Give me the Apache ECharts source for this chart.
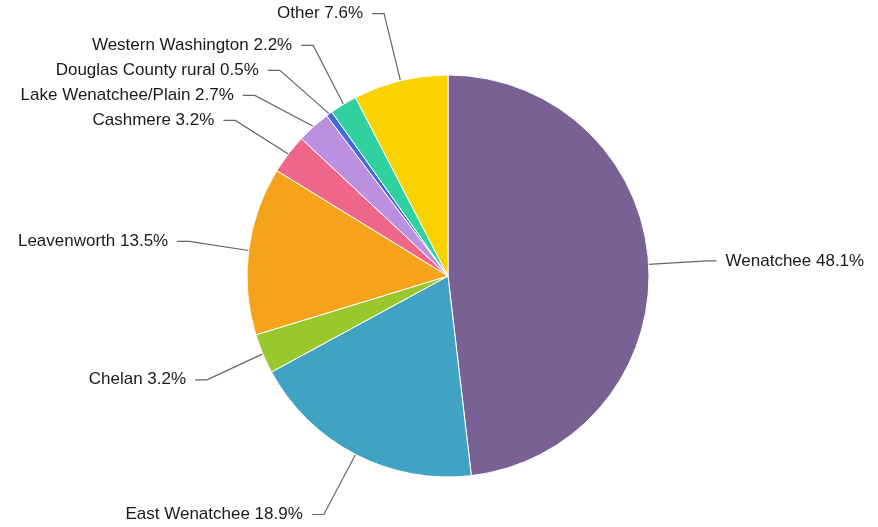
<!DOCTYPE html>
<html><head><meta charset="utf-8">
<script src="https://cdn.jsdelivr.net/npm/echarts@6/dist/echarts.min.js"></script>
<style>html,body{margin:0;padding:0;background:#fff}#c{width:878px;height:527px}</style>
</head><body><div id="c"></div>
<script>
const categories = ["Wenatchee","East Wenatchee","Chelan","Leavenworth","Cashmere","Lake Wenatchee/Plain","Douglas County rural","Western Washington","Other"];
const values = [48.1,18.9,3.2,13.5,3.2,2.7,0.5,2.2,7.6];
const colors = ["#7a6193","#41a3c4","#99c82c","#f5a31a","#ee6688","#bc90e0","#3f6ad8","#30d09f","#fad200"];
const chart = echarts.init(document.getElementById('c'));
chart.setOption({
  animation:false,
  series:[{
    type:'pie',
    center:[448,276],
    radius:201,
    startAngle:90,
    clockwise:true,
    data:categories.map((n,i)=>{
      const d={name:n,value:values[i],itemStyle:{color:colors[i]}};
      if(i===0) d.labelLine={length:58,length2:10};
      return d;
    }),
    itemStyle:{borderColor:'#fff',borderWidth:1},
    label:{formatter:p=>p.name+' '+p.value.toFixed(1)+'%',fontFamily:'Liberation Sans',fontSize:17,color:'#1a1a1a',distanceToLabelLine:9,overflow:'none',lineHeight:23},
    labelLine:{length:69,length2:12,lineStyle:{color:'#666',width:1.2}}
  }]
});
</script></body></html>
